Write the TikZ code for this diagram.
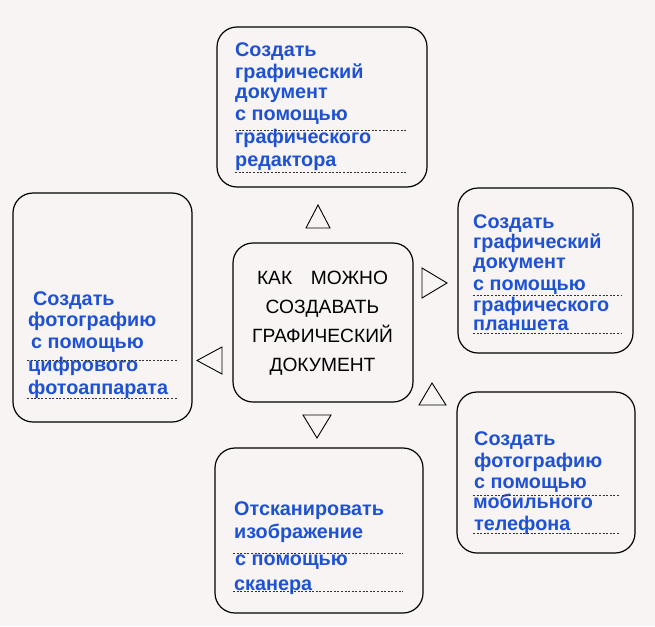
\documentclass[tikz,border=0pt]{standalone}
\usepackage{fontspec}
\setmainfont{Liberation Sans}
\definecolor{paper}{RGB}{248,244,244}
\definecolor{txtblue}{RGB}{30,82,210}
\begin{document}
\begin{tikzpicture}[x=1pt,y=-1pt,
  box/.style={draw=black,line width=1.2pt,rounded corners=20pt},
  bl/.style={anchor=base west,inner sep=0pt,text=txtblue,font=\fontsize{19.8}{22}\selectfont\bfseries},
  ctr/.style={anchor=base,inner sep=0pt,text=black,font=\fontsize{19.2}{22}\selectfont},
  dots/.style={draw=black!80,line width=0.6pt,dash pattern=on 2pt off 1.6pt},
  tri/.style={draw=black,line width=0.9pt,fill=paper,line join=miter}]
\useasboundingbox (0,0) rectangle (655,626);
\fill[paper] (0,0) rectangle (655,626);
% boxes
\draw[box] (217,27) rectangle (427,187);
\draw[box] (13,193) rectangle (192,422);
\draw[box] (458,188) rectangle (633,353);
\draw[box] (233,243) rectangle (413,402);
\draw[box] (457,392) rectangle (635,553);
\draw[box] (215,448) rectangle (423,613);
% centre text
\node[ctr] (c1) at (322.5,284) {\makebox[131pt][s]{КАК МОЖНО}};
\node[ctr] (c2) at (322.5,313) {СОЗДАВАТЬ};
\node[ctr] (c3) at (322.5,342) {ГРАФИЧЕСКИЙ};
\node[ctr] (c4) at (322.5,371) {ДОКУМЕНТ};
% top box
\node[bl] (a1) at (235,56.7) {Создать};
\node[bl] (a2) at (235,78) {графический};
\node[bl] (a3) at (235,98) {документ};
\node[bl] (a4) at (235,120) {с помощью};
\node[bl] (a5) at (235,143) {графического};
\node[bl] (a6) at (235,166.5) {редактора};
\draw[dots] (235,130) -- (407,130);
\draw[dots] (235,172) -- (407,172);
% left box
\node[bl] (b1) at (33,305) {Создать};
\node[bl] (b2) at (28,326.7) {фотографию};
\node[bl] (b3) at (31,348) {с помощью};
\node[bl] (b4) at (28,371.5) {цифрового};
\node[bl] (b5) at (28,394) {фотоаппарата};
\draw[dots] (27,360) -- (177,360);
\draw[dots] (27,398) -- (177,398);
% right box
\node[bl] (r1) at (473,228) {Создать};
\node[bl] (r2) at (473,248) {графический};
\node[bl] (r3) at (473,268) {документ};
\node[bl] (r4) at (473,290) {с помощью};
\node[bl] (r5) at (473,311) {графического};
\node[bl] (r6) at (473,330) {планшета};
\draw[dots] (473,295) -- (622,295);
\draw[dots] (473,333) -- (622,333);
% bottom right box
\node[bl] (m1) at (474,445) {Создать};
\node[bl] (m2) at (474,467) {фотографию};
\node[bl] (m3) at (474,488) {с помощью};
\node[bl] (m4) at (473,508) {мобильного};
\node[bl] (m5) at (474,530) {телефона};
\draw[dots] (473,495) -- (620,495);
\draw[dots] (473,533) -- (620,533);
% bottom box
\node[bl] (s1) at (234,515) {Отсканировать};
\node[bl] (s2) at (234,538) {изображение};
\node[bl] (s3) at (235,565) {с помощью};
\node[bl] (s4) at (234,590) {сканера};
\draw[dots] (233,553) -- (403,553);
\draw[dots] (233,591) -- (403,591);
% triangles
\draw[tri] (306,228) -- (318,205) -- (330,228) -- cycle;
\draw[tri] (422,268) -- (447,283) -- (422,298) -- cycle;
\draw[tri] (222,347) -- (197,360.5) -- (222,374) -- cycle;
\draw[tri] (303,415) -- (317,438) -- (331,415) -- cycle;
\draw[tri] (419,405) -- (432,383) -- (446,405) -- cycle;
\end{tikzpicture}
\end{document}
